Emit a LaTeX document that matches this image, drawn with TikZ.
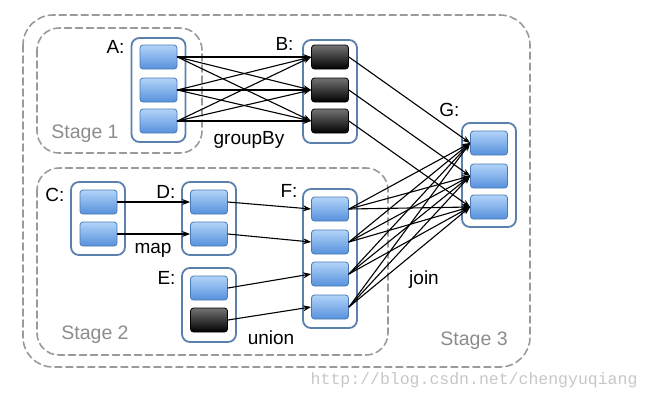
\documentclass[tikz,border=0pt]{standalone}
\usepackage{fontspec}
\setmainfont{Liberation Sans}
\newfontfamily\wmfont{Liberation Mono}
\usetikzlibrary{arrows.meta}
\definecolor{boxline}{HTML}{4A7AB5}
\definecolor{boxtop}{HTML}{B2D4F8}
\definecolor{boxbot}{HTML}{5690DC}
\definecolor{contline}{HTML}{5B80AE}
\definecolor{stageline}{HTML}{9A9A9A}
\tikzset{
    cont/.style={draw=contline, line width=1.8pt, rounded corners=8pt, fill=white, minimum width=54pt, inner sep=0pt},
    blk/.style={draw=boxline, line width=0.8pt, rounded corners=3pt, top color=boxtop, bottom color=boxbot, minimum width=37pt, minimum height=24pt, inner sep=0pt},
    dblk/.style={blk, draw=black, top color=black!55, bottom color=black},
    stage/.style={draw=stageline, line width=1.6pt, dash pattern=on 7pt off 4pt},
    stagetxt/.style={text=black!45, font=\fontsize{19.5}{22}\selectfont},
    lbl/.style={font=\fontsize{19}{22}\selectfont},
    edge/.style={-{Stealth[length=8pt,width=6pt]}, line width=1.1pt}
}
\begin{document}
\begin{tikzpicture}[x=1pt, y=-1pt, line join=round, line cap=round]
    \useasboundingbox (0,0) rectangle (652,400);
    % stages
    \draw[stage, rounded corners=30pt] (23,15) rectangle (530,367);
    \draw[stage, rounded corners=22pt] (37,28) rectangle (202,153);
    \draw[stage, rounded corners=22pt] (37,168) rectangle (388,355);
    \node[stagetxt] (s1) at (85,134) {Stage 1};
    \node[stagetxt] (s2) at (95,335) {Stage 2};
    \node[stagetxt] (s3) at (474,341) {Stage 3};
    % containers
    \node[cont, minimum height=104pt] (A) at (158.5,90) {};
    \node[cont, minimum height=103pt] (B) at (330,91.5) {};
    \node[cont, minimum height=104pt] (G) at (489,175) {};
    \node[cont, minimum height=73pt] (C) at (98,218.5) {};
    \node[cont, minimum height=73pt] (D) at (209,218.5) {};
    \node[cont, minimum height=74pt] (E) at (209,305) {};
    \node[cont, minimum height=139pt] (F) at (330,258.5) {};
    % partitions
    \foreach \y [count=\i] in {57,90,121} {
        \node[blk] (A\i) at (158.5,\y) {};
        \node[dblk] (B\i) at (330,\y) {};
    }
    \foreach \y [count=\i] in {143,176,207} \node[blk] (G\i) at (489,\y) {};
    \foreach \y [count=\i] in {202,234} {
        \node[blk] (C\i) at (98.5,\y) {};
        \node[blk] (D\i) at (209,\y) {};
    }
    \node[blk] (E1) at (209,288) {};
    \node[dblk] (E2) at (209,320) {};
    \foreach \y [count=\i] in {209,242,274,307} \node[blk] (F\i) at (330,\y) {};
    % labels
    \node[lbl, anchor=east] (la) at (128,47) {A:};
    \node[lbl, anchor=east] (lb) at (297,44) {B:};
    \node[lbl, anchor=east] (lc) at (68,195) {C:};
    \node[lbl, anchor=east] (ld) at (179,192) {D:};
    \node[lbl, anchor=east] (le) at (179,278) {E:};
    \node[lbl, anchor=east] (lf) at (301,191) {F:};
    \node[lbl, anchor=east] (lg) at (463,110) {G:};
    \node[lbl] (groupby) at (249,140) {groupBy};
    \node[lbl] (map) at (153,250) {map};
    \node[lbl] (union) at (271,338) {union};
    \node[lbl] (join) at (424,280) {join};
    % dependencies
    \foreach \i in {1,2,3} {
        \foreach \j in {1,2,3} \draw[edge] (A\i.east) -- (B\j.west);
        \draw[edge] (B\i.east) -- (G\i.west);
    }
    \foreach \i in {1,2} {
        \draw[edge] (C\i.east) -- (D\i.west);
        \draw[edge] (D\i.east) -- (F\i.west);
    }
    \draw[edge] (E1.east) -- (F3.west);
    \draw[edge] (E2.east) -- (F4.west);
    \foreach \i in {1,...,4}
        \foreach \j in {1,2,3} \draw[edge] (F\i.east) -- (G\j.west);
    % watermark
    \node[anchor=east, text=black!22, font=\wmfont\fontsize{16.5}{18}\selectfont] (wm) at (641,380) {http://blog.csdn.net/chengyuqiang};
\end{tikzpicture}
\end{document}
